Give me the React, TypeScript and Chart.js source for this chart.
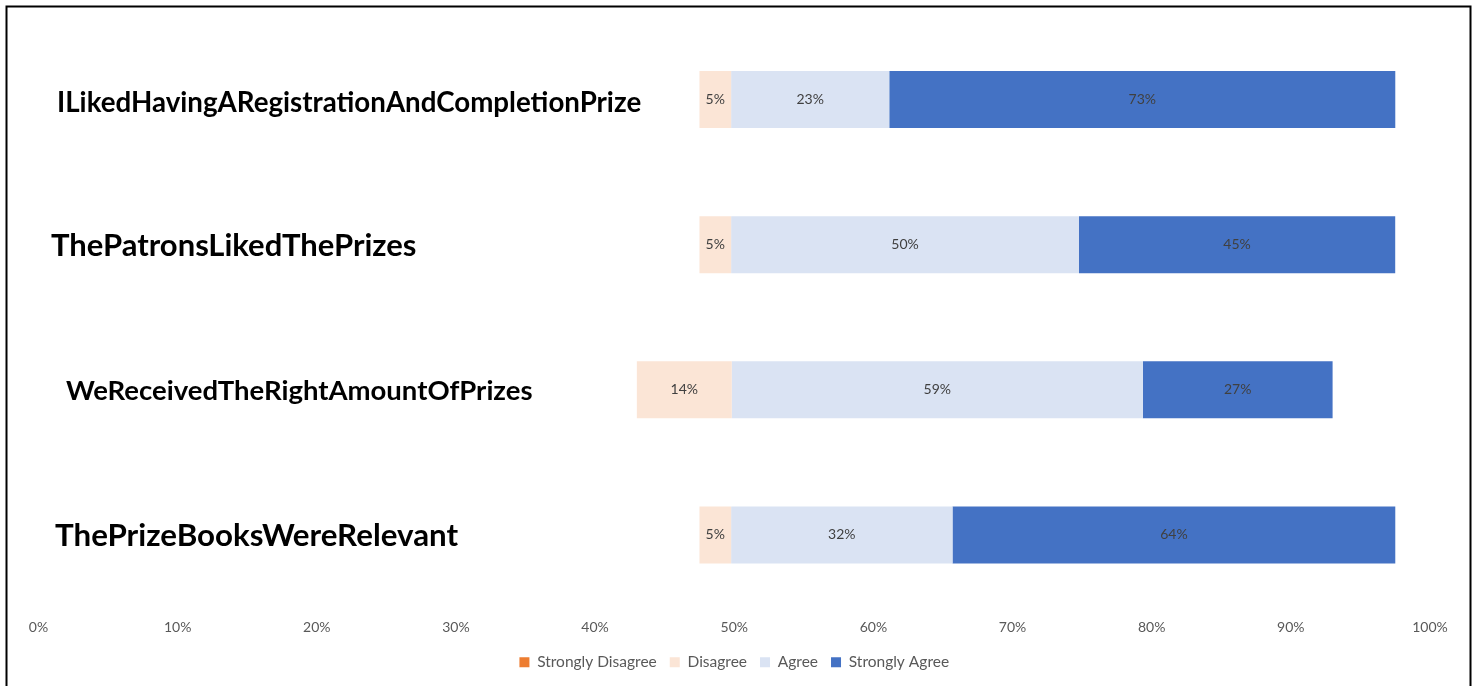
import React, { useEffect, useRef } from "react";
import { Chart, registerables } from "chart.js";

Chart.register(...registerables);

const categories = [
  "ILikedHavingARegistrationAndCompletionPrize",
  "ThePatronsLikedThePrizes",
  "WeReceivedTheRightAmountOfPrizes",
  "ThePrizeBooksWereRelevant",
];
const stronglyDisagree = [0, 0, 0, 0];
const disagree = [4.55, 4.55, 13.64, 4.55];
const agree = [22.73, 50.0, 59.09, 31.82];
const stronglyAgree = [72.73, 45.45, 27.27, 63.64];

// category label text boxes: left edge, font size, vertical nudge (layout only)
const labelLeft = [57, 51, 66, 55];
const labelSize = [27.7, 31, 27.5, 31.3];
const labelNudge = [4, 1, 1, 1];

const FONT = "Lato, 'Open Sans', sans-serif";

// invisible spacer so that the negative side ends at the 50% mark
const offsets = categories.map(
  (_, i) => 100 - Math.round(stronglyDisagree[i]) - Math.round(disagree[i])
);

const framePlugin = {
  id: "frame",
  afterDraw(chart: any) {
    const ctx = chart.ctx;
    ctx.save();
    ctx.strokeStyle = "#000";
    ctx.lineWidth = 2;
    ctx.strokeRect(6.5, 6.5, 1464, 700);
    ctx.restore();
  },
};

const labelsPlugin = {
  id: "catLabels",
  afterDatasetsDraw(chart: any) {
    const ctx = chart.ctx;
    const y = chart.scales.y;
    ctx.save();
    ctx.font = `14px ${FONT}`;
    ctx.fillStyle = "#404040";
    ctx.textAlign = "center";
    ctx.textBaseline = "middle";
    chart.data.datasets.forEach((ds: any, di: number) => {
      if (ds.isOffset) return;
      const meta = chart.getDatasetMeta(di);
      meta.data.forEach((el: any, i: number) => {
        const v = ds.data[i];
        if (!v) return;
        const cx = (el.x + el.base) / 2;
        ctx.fillText(Math.round(v) + "%", cx, el.y);
      });
    });
    ctx.fillStyle = "#000000";
    ctx.textAlign = "left";
    categories.forEach((c, i) => {
      ctx.font = `bold ${labelSize[i]}px ${FONT}`;
      ctx.fillText(c, labelLeft[i], y.getPixelForValue(i) + labelNudge[i]);
    });
    ctx.restore();
  },
};

export default function App() {
  const ref = useRef<HTMLCanvasElement>(null);
  useEffect(() => {
    if (!ref.current) return;
    const chart = new Chart(ref.current, {
      type: "bar",
      data: {
        labels: categories,
        datasets: [
          { label: "offset", data: offsets, backgroundColor: "rgba(0,0,0,0)", isOffset: true } as any,
          { label: "Strongly Disagree", data: stronglyDisagree, backgroundColor: "#ED7D31" },
          { label: "Disagree", data: disagree, backgroundColor: "#FBE5D6" },
          { label: "Agree", data: agree, backgroundColor: "#DAE3F3" },
          { label: "Strongly Agree", data: stronglyAgree, backgroundColor: "#4472C4" },
        ],
      },
      options: {
        indexAxis: "y",
        animation: false,
        responsive: false,
        maintainAspectRatio: false,
        datasets: { bar: { categoryPercentage: 1, barPercentage: 0.393 } },
        layout: { padding: { left: 38.5, right: 48, top: 27, bottom: 6 } },
        scales: {
          x: {
            stacked: true,
            min: 0,
            max: 200,
            grid: { display: false, drawTicks: false },
            border: { display: false },
            ticks: {
              stepSize: 20,
              padding: 12,
              color: "#595959",
              font: { family: FONT, size: 14 },
              callback: (v: any) => Number(v) / 2 + "%",
            },
            afterFit: (scale: any) => {
              scale.height = 34;
            },
          },
          y: {
            stacked: true,
            display: false,
          },
        },
        plugins: {
          legend: {
            position: "bottom",
            labels: {
              filter: (item: any) => item.text !== "offset",
              boxWidth: 10,
              boxHeight: 10,
              color: "#595959",
              font: { family: FONT, size: 15.5 },
              padding: 13,
            },
          },
          tooltip: { enabled: false },
        },
      },
      plugins: [labelsPlugin, framePlugin],
    });
    return () => chart.destroy();
  }, []);
  return (
    <div style={{ position: "fixed", left: 0, top: 0, width: 1478, height: 686, background: "#fff" }}>
      <canvas ref={ref} width={1478} height={686} style={{ display: "block" }} />
    </div>
  );
}
